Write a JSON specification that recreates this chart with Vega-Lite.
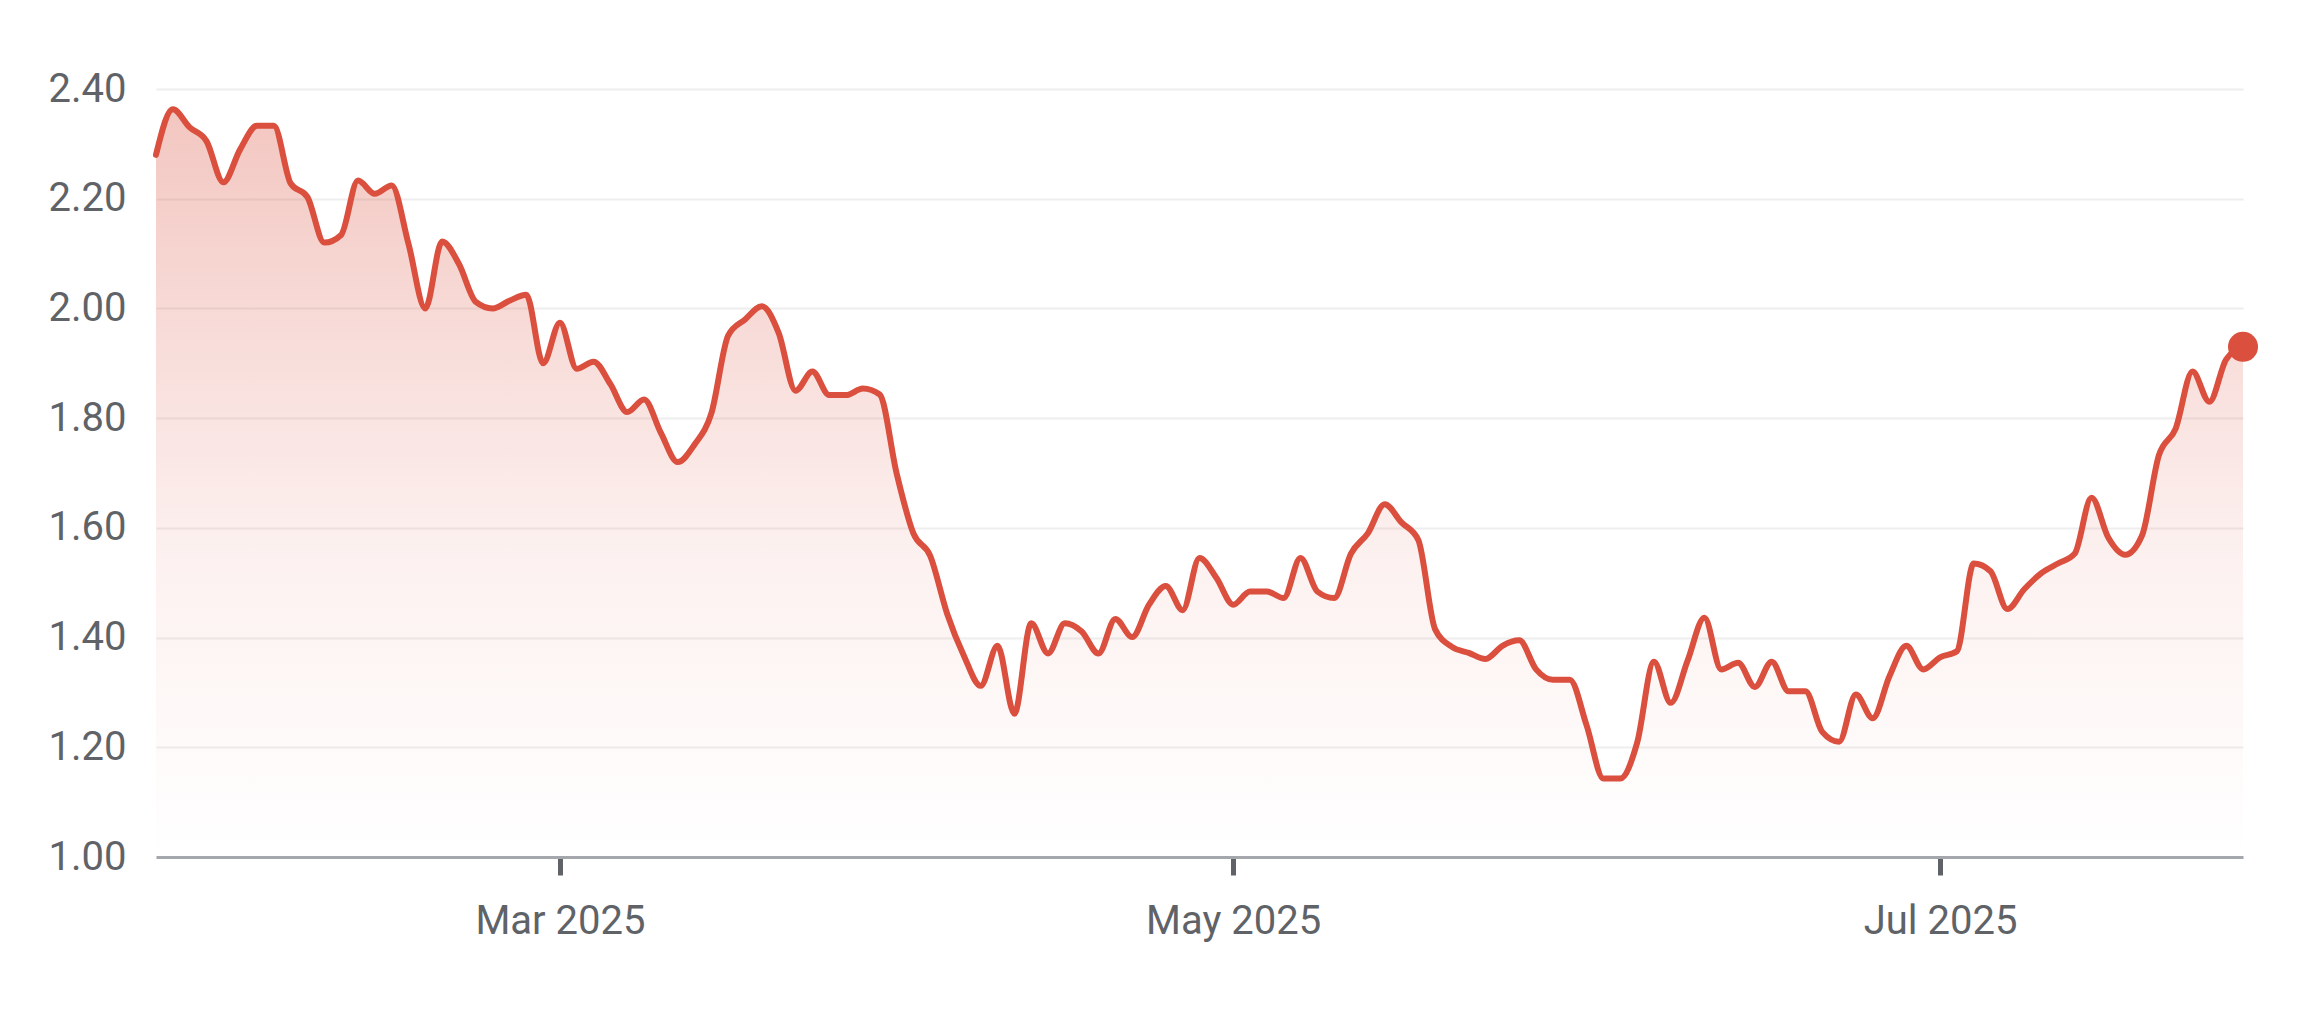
{
  "$schema": "https://vega.github.io/schema/vega-lite/v6.json",
  "width": 2087,
  "height": 768,
  "autosize": {"type": "none"},
  "padding": {"left": 156, "top": 89, "right": 67, "bottom": 159},
  "background": "#ffffff",
  "config": {
    "view": {"stroke": null},
    "font": "Roboto",
    "axis": {"labelFont": "Roboto", "labelColor": "#5f6368", "labelFontSize": 40, "title": null}
  },
  "data": {
    "values": [
      {"date": "2025-01-28", "value": 2.28},
      {"date": "2025-01-29", "value": 2.363},
      {"date": "2025-01-30", "value": 2.33},
      {"date": "2025-01-31", "value": 2.305},
      {"date": "2025-02-03", "value": 2.23},
      {"date": "2025-02-04", "value": 2.29},
      {"date": "2025-02-05", "value": 2.333},
      {"date": "2025-02-06", "value": 2.333},
      {"date": "2025-02-07", "value": 2.228},
      {"date": "2025-02-10", "value": 2.203},
      {"date": "2025-02-11", "value": 2.12},
      {"date": "2025-02-12", "value": 2.134},
      {"date": "2025-02-13", "value": 2.233},
      {"date": "2025-02-14", "value": 2.209},
      {"date": "2025-02-17", "value": 2.224},
      {"date": "2025-02-18", "value": 2.118},
      {"date": "2025-02-19", "value": 2.0},
      {"date": "2025-02-20", "value": 2.122},
      {"date": "2025-02-21", "value": 2.081},
      {"date": "2025-02-24", "value": 2.012},
      {"date": "2025-02-25", "value": 2.0},
      {"date": "2025-02-26", "value": 2.014},
      {"date": "2025-02-27", "value": 2.025},
      {"date": "2025-02-28", "value": 1.9},
      {"date": "2025-03-03", "value": 1.974},
      {"date": "2025-03-04", "value": 1.89},
      {"date": "2025-03-05", "value": 1.903},
      {"date": "2025-03-06", "value": 1.862},
      {"date": "2025-03-07", "value": 1.811},
      {"date": "2025-03-10", "value": 1.834},
      {"date": "2025-03-11", "value": 1.773},
      {"date": "2025-03-12", "value": 1.72},
      {"date": "2025-03-13", "value": 1.752},
      {"date": "2025-03-14", "value": 1.809},
      {"date": "2025-03-17", "value": 1.951},
      {"date": "2025-03-18", "value": 1.98},
      {"date": "2025-03-19", "value": 2.004},
      {"date": "2025-03-20", "value": 1.955},
      {"date": "2025-03-21", "value": 1.85},
      {"date": "2025-03-24", "value": 1.885},
      {"date": "2025-03-25", "value": 1.842},
      {"date": "2025-03-26", "value": 1.842},
      {"date": "2025-03-27", "value": 1.854},
      {"date": "2025-03-28", "value": 1.843},
      {"date": "2025-03-31", "value": 1.7},
      {"date": "2025-04-01", "value": 1.59},
      {"date": "2025-04-02", "value": 1.549},
      {"date": "2025-04-03", "value": 1.444},
      {"date": "2025-04-07", "value": 1.367},
      {"date": "2025-04-08", "value": 1.312},
      {"date": "2025-04-09", "value": 1.385},
      {"date": "2025-04-10", "value": 1.261},
      {"date": "2025-04-11", "value": 1.426},
      {"date": "2025-04-14", "value": 1.371},
      {"date": "2025-04-15", "value": 1.426},
      {"date": "2025-04-16", "value": 1.411},
      {"date": "2025-04-17", "value": 1.371},
      {"date": "2025-04-22", "value": 1.434},
      {"date": "2025-04-23", "value": 1.401},
      {"date": "2025-04-24", "value": 1.46},
      {"date": "2025-04-25", "value": 1.494},
      {"date": "2025-04-28", "value": 1.45},
      {"date": "2025-04-29", "value": 1.545},
      {"date": "2025-04-30", "value": 1.509},
      {"date": "2025-05-02", "value": 1.46},
      {"date": "2025-05-05", "value": 1.484},
      {"date": "2025-05-06", "value": 1.484},
      {"date": "2025-05-07", "value": 1.472},
      {"date": "2025-05-08", "value": 1.545},
      {"date": "2025-05-09", "value": 1.484},
      {"date": "2025-05-12", "value": 1.472},
      {"date": "2025-05-13", "value": 1.553},
      {"date": "2025-05-14", "value": 1.59},
      {"date": "2025-05-15", "value": 1.643},
      {"date": "2025-05-16", "value": 1.61},
      {"date": "2025-05-19", "value": 1.578},
      {"date": "2025-05-20", "value": 1.415},
      {"date": "2025-05-21", "value": 1.383},
      {"date": "2025-05-22", "value": 1.372},
      {"date": "2025-05-23", "value": 1.361},
      {"date": "2025-05-26", "value": 1.385},
      {"date": "2025-05-27", "value": 1.395},
      {"date": "2025-05-28", "value": 1.342},
      {"date": "2025-05-29", "value": 1.323},
      {"date": "2025-05-30", "value": 1.323},
      {"date": "2025-06-02", "value": 1.24},
      {"date": "2025-06-03", "value": 1.143},
      {"date": "2025-06-04", "value": 1.143},
      {"date": "2025-06-05", "value": 1.208},
      {"date": "2025-06-06", "value": 1.356},
      {"date": "2025-06-09", "value": 1.281},
      {"date": "2025-06-10", "value": 1.358},
      {"date": "2025-06-11", "value": 1.436},
      {"date": "2025-06-12", "value": 1.342},
      {"date": "2025-06-13", "value": 1.354},
      {"date": "2025-06-16", "value": 1.31},
      {"date": "2025-06-17", "value": 1.356},
      {"date": "2025-06-18", "value": 1.302},
      {"date": "2025-06-19", "value": 1.302},
      {"date": "2025-06-20", "value": 1.228},
      {"date": "2025-06-23", "value": 1.21},
      {"date": "2025-06-24", "value": 1.296},
      {"date": "2025-06-25", "value": 1.253},
      {"date": "2025-06-26", "value": 1.33},
      {"date": "2025-06-27", "value": 1.385},
      {"date": "2025-06-30", "value": 1.342},
      {"date": "2025-07-01", "value": 1.364},
      {"date": "2025-07-02", "value": 1.375},
      {"date": "2025-07-03", "value": 1.535},
      {"date": "2025-07-04", "value": 1.521},
      {"date": "2025-07-07", "value": 1.452},
      {"date": "2025-07-08", "value": 1.488},
      {"date": "2025-07-09", "value": 1.517},
      {"date": "2025-07-10", "value": 1.535},
      {"date": "2025-07-11", "value": 1.553},
      {"date": "2025-07-14", "value": 1.655},
      {"date": "2025-07-15", "value": 1.582},
      {"date": "2025-07-16", "value": 1.551},
      {"date": "2025-07-17", "value": 1.586},
      {"date": "2025-07-18", "value": 1.732},
      {"date": "2025-07-21", "value": 1.781},
      {"date": "2025-07-22", "value": 1.885},
      {"date": "2025-07-23", "value": 1.83},
      {"date": "2025-07-24", "value": 1.907},
      {"date": "2025-07-25", "value": 1.93}
    ]
  },
  "encoding": {
    "x": {
      "field": "date",
      "type": "ordinal",
      "scale": {"type": "point", "padding": 0},
      "axis": {
        "values": ["2025-03-03", "2025-05-02", "2025-07-01"],
        "labelExpr": "utcFormat(toDate(datum.value), '%b %Y')",
        "labelAngle": 0,
        "domainColor": "#a4a7ab",
        "domainWidth": 3,
        "tickColor": "#5f6368",
        "tickWidth": 5,
        "tickSize": 18,
        "labelPadding": 26,
        "grid": false,
        "zindex": 1
      }
    },
    "y": {
      "field": "value",
      "type": "quantitative",
      "scale": {"domain": [1, 2.4], "zero": false, "nice": false},
      "axis": {
        "values": [1, 1.2, 1.4, 1.6, 1.8, 2.0, 2.2, 2.4],
        "format": ".2f",
        "domain": false,
        "ticks": false,
        "labelPadding": 30,
        "gridColor": "#eeeeee",
        "gridWidth": 2
      }
    }
  },
  "layer": [
    {
      "mark": {
        "type": "area",
        "interpolate": "monotone",
        "fill": {
          "gradient": "linear",
          "x1": 0, "y1": 0, "x2": 0, "y2": 1,
          "stops": [
            {"offset": 0, "color": "rgba(218,79,61,0.32)"},
            {"offset": 0.6, "color": "rgba(218,79,61,0.08)"},
            {"offset": 1, "color": "rgba(218,79,61,0)"}
          ]
        }
      },
      "encoding": {"y2": {"datum": 1}}
    },
    {
      "mark": {"type": "line", "interpolate": "monotone", "color": "#da4f3d", "strokeWidth": 6, "strokeJoin": "round", "strokeCap": "round"}
    },
    {
      "transform": [{"filter": "datum.date == '2025-07-25'"}],
      "mark": {"type": "point", "filled": true, "color": "#da4f3d", "opacity": 1, "size": 900}
    }
  ]
}
